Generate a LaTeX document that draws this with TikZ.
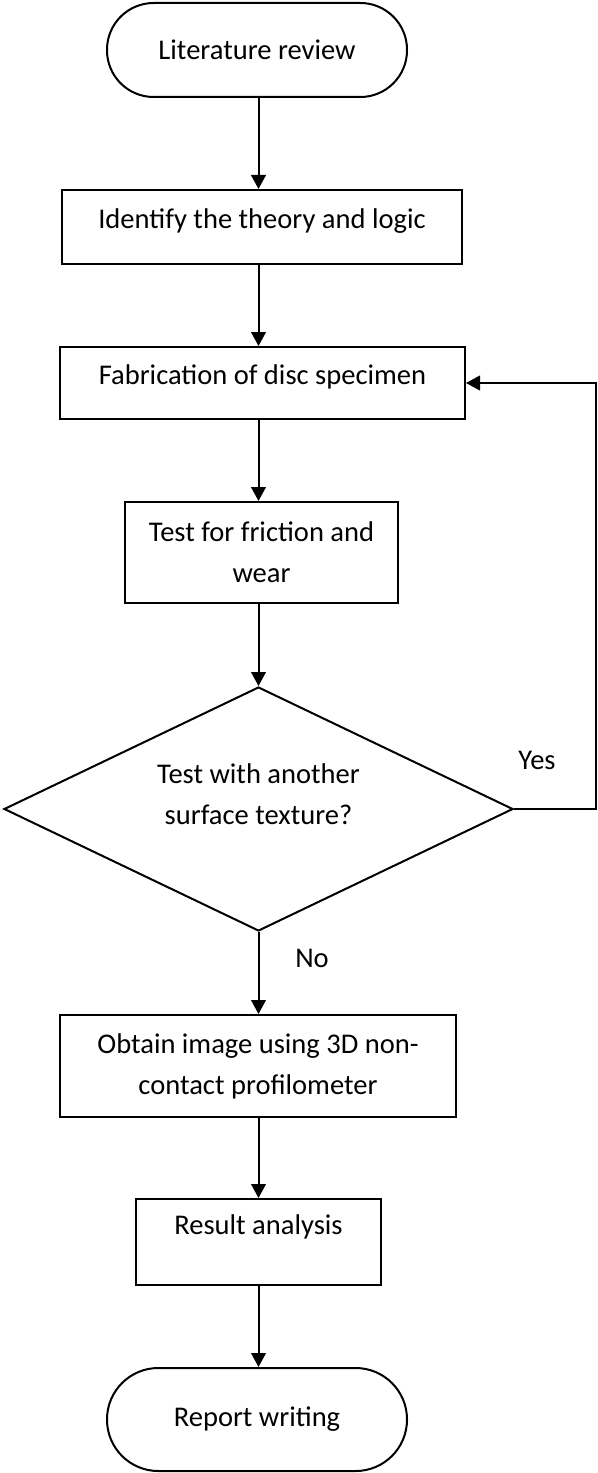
\documentclass[tikz,border=0pt]{standalone}
\usepackage{fontspec}
\setmainfont{Carlito}
\usetikzlibrary{shapes.geometric,arrows.meta}

\tikzset{every picture/.style={line width=1.5pt}}
\tikzset{
  flowbox/.style={draw, rectangle, align=center, inner sep=0pt, font=\fontsize{21.4}{30.75}\selectfont},
  termbox/.style={flowbox, minimum width=225pt},
  decbox/.style={draw, diamond, aspect=2.1, align=center, inner sep=0pt, font=\fontsize{21.4}{30.75}\selectfont},
  flowlabel/.style={inner sep=0pt, font=\fontsize{21.4}{30.75}\selectfont},
  flowarrow/.style={-{Triangle[length=10.5pt,width=11pt]}}
}

\begin{document}
\begin{tikzpicture}[x=0.75pt,y=0.75pt,yscale=-1,xscale=1]
	\useasboundingbox (0,0) rectangle (597,1473);

	%Flowchart: Terminator
	\node [termbox, minimum height=70.5pt, rounded corners=35pt] (lit) at (257,50) {Literature review};
	%Flowchart: Process
	\node [flowbox, minimum width=300pt, minimum height=55.5pt, text depth=12pt] (ident) at (262,227) {Identify the theory and logic};
	%Flowchart: Process
	\node [flowbox, minimum width=303.75pt, minimum height=54pt, text depth=12pt] (fab) at (262.5,383) {Fabrication of disc specimen};
	%Flowchart: Process
	\node [flowbox, minimum width=204.75pt, minimum height=75.75pt] (test) at (261.5,552.5) {Test for friction and\\wear};
	%Flowchart: Decision
	\node [decbox, minimum width=381.75pt, minimum height=183pt, text depth=22pt] (dec) at (258.5,809) {Test with another\\surface texture?};
	%Flowchart: Process
	\node [flowbox, minimum width=297pt, minimum height=76.5pt] (obtain) at (258,1066) {Obtain image using 3D non-\\contact profilometer};
	%Flowchart: Process
	\node [flowbox, minimum width=183.75pt, minimum height=64.5pt, text depth=26pt] (result) at (258.5,1242) {Result analysis};
	%Flowchart: Terminator
	\node [termbox, minimum height=77.25pt, rounded corners=38.5pt] (report) at (257,1419.5) {Report writing};

	% Text Node
	\node [flowlabel] (yes) at (537,760) {Yes};
	% Text Node
	\node [flowlabel] (no) at (312,958) {No};

	%Straight Lines
	\draw [flowarrow] (dec.north |- lit.south) -- (dec.north |- ident.north);
	\draw [flowarrow] (dec.north |- ident.south) -- (dec.north |- fab.north);
	\draw [flowarrow] (dec.north |- fab.south) -- (dec.north |- test.north);
	\draw [flowarrow] (dec.north |- test.south) -- (dec.north);
	\draw [flowarrow] (dec.south) -- (dec.south |- obtain.north);
	\draw [flowarrow] (dec.south |- obtain.south) -- (dec.south |- result.north);
	\draw [flowarrow] (dec.south |- result.south) -- (dec.south |- report.north);

	%Loop back
	\coordinate (back) at (596,809);
	\draw [flowarrow] (dec.east) -- (back) |- (fab.east);

\end{tikzpicture}
\end{document}
